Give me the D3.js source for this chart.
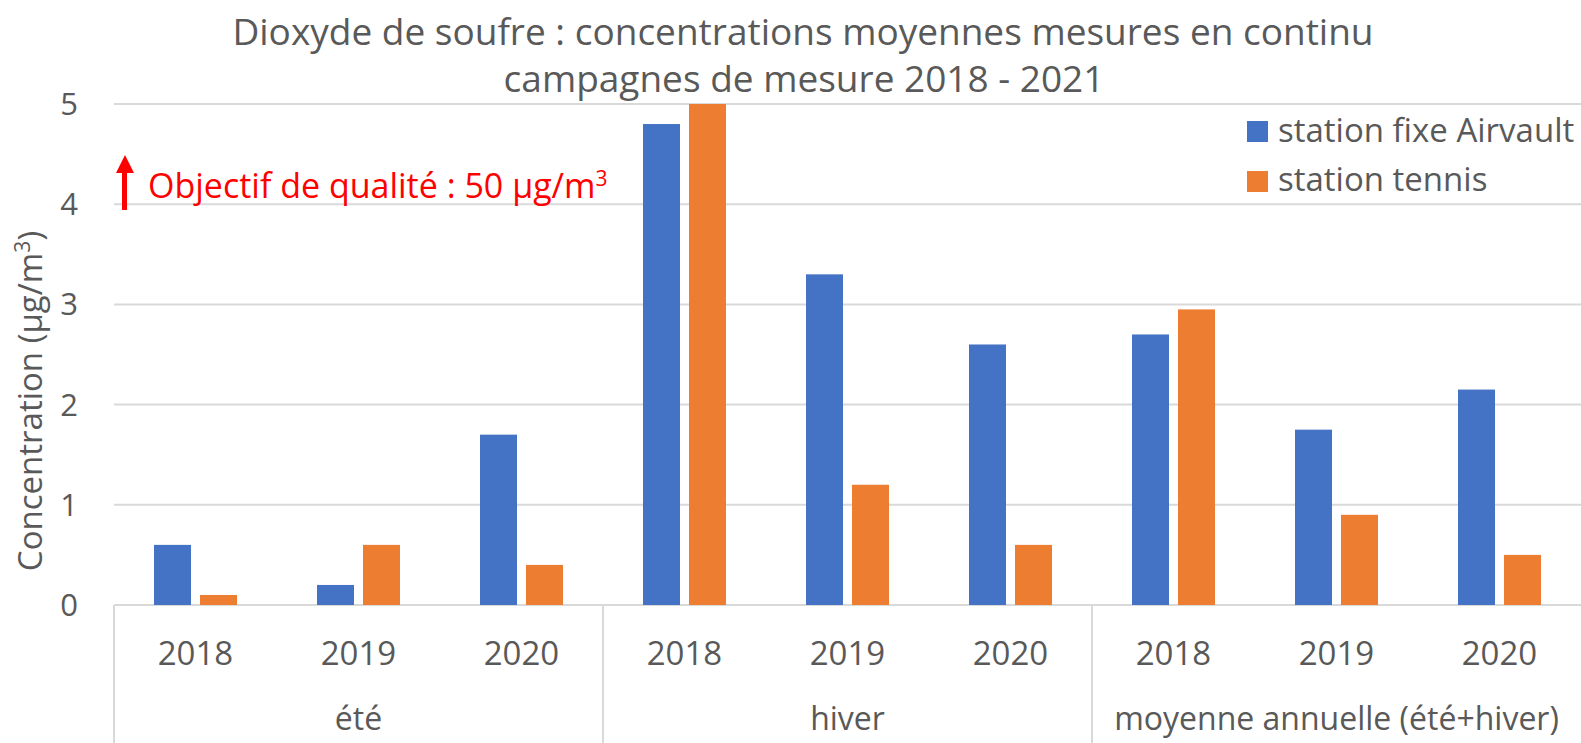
<html>

<head>
  <script src="https://d3js.org/d3.v7.min.js"></script>
  <style>
    body { margin: 0; background: white; }
    text { font-family: "Open Sans", sans-serif; fill: #595959; }
  </style>
</head>

<body>
  <svg id="chart" width="1581" height="743"></svg>

  <script>
    const groups = ["été", "hiver", "moyenne annuelle (été+hiver)"];
    const years = ["2018", "2019", "2020"];
    const seriesNames = ["station fixe Airvault", "station tennis"];
    const seriesColors = ["#4472c4", "#ed7d31"];
    const airvault = [0.6, 0.2, 1.7, 4.8, 3.3, 2.6, 2.7, 1.75, 2.15];
    const tennis = [0.1, 0.6, 0.4, 5.0, 1.2, 0.6, 2.95, 0.9, 0.5];
    const yTicks = [0, 1, 2, 3, 4, 5];

    let svg = d3.select("svg#chart");
    const margin = { top: 104, right: 0, bottom: 138, left: 114 };
    const width = +svg.attr("width");
    const height = +svg.attr("height");

    // one slot per group/year pair
    const slots = [];
    groups.forEach(g => years.forEach(y => slots.push(g + "|" + y)));

    const x = d3.scaleBand().domain(slots).range([margin.left, width - margin.right]);
    const xGroup = d3.scaleBand().domain(groups).range([margin.left, width - margin.right]);
    const y = d3.scaleLinear().domain([0, 5]).range([height - margin.bottom, margin.top]);

    const barW = 37, barGap = 9;

    // grid
    yTicks.forEach(t => {
      svg.append("line")
        .attr("x1", margin.left).attr("x2", width)
        .attr("y1", y(t)).attr("y2", y(t))
        .style("stroke", "#d9d9d9").style("stroke-width", 2);
    });

    // y tick labels
    yTicks.forEach(t => {
      svg.append("text")
        .attr("x", 78).attr("y", y(t) + 11)
        .attr("text-anchor", "end")
        .style("font-size", "31px")
        .text(t);
    });

    // bars
    slots.forEach((s, i) => {
      const cx = x(s) + x.bandwidth() / 2;
      [airvault[i], tennis[i]].forEach((v, k) => {
        const bx = k === 0 ? cx - barGap / 2 - barW : cx + barGap / 2;
        svg.append("rect")
          .attr("x", bx).attr("width", barW)
          .attr("y", y(v)).attr("height", y(0) - y(v))
          .attr("fill", seriesColors[k]);
      });
      svg.append("text")
        .attr("x", cx).attr("y", y(0) + 60)
        .attr("text-anchor", "middle")
        .style("font-size", "33px")
        .text(s.split("|")[1]);
    });

    // category dividers
    groups.forEach(g => {
      svg.append("line")
        .attr("x1", xGroup(g)).attr("x2", xGroup(g))
        .attr("y1", y(0)).attr("y2", height)
        .style("stroke", "#d9d9d9").style("stroke-width", 2);
      svg.append("text")
        .attr("x", xGroup(g) + xGroup.bandwidth() / 2).attr("y", y(0) + 125)
        .attr("text-anchor", "middle")
        .style("font-size", "32px")
        .text(g);
    });

    // title
    svg.append("text")
      .attr("x", 803).attr("y", 45)
      .attr("text-anchor", "middle")
      .style("font-size", "37px")
      .text("Dioxyde de soufre : concentrations moyennes mesures en continu");
    svg.append("text")
      .attr("x", 804).attr("y", 92)
      .attr("text-anchor", "middle")
      .style("font-size", "37px")
      .text("campagnes de mesure 2018 - 2021");

    // y axis title
    const yt = svg.append("text")
      .attr("transform", "translate(42, 401) rotate(-90)")
      .attr("text-anchor", "middle")
      .style("font-size", "33px");
    yt.append("tspan").text("Concentration (µg/m");
    yt.append("tspan").attr("dy", -12).style("font-size", "21px").text("3");
    yt.append("tspan").attr("dy", 12).text(")");

    // legend
    seriesNames.forEach((n, k) => {
      svg.append("rect")
        .attr("x", 1247).attr("y", 121 + k * 50)
        .attr("width", 21).attr("height", 21)
        .attr("fill", seriesColors[k]);
      svg.append("text")
        .attr("x", 1278).attr("y", 142 + k * 49)
        .style("font-size", "33px")
        .text(n);
    });

    // quality objective annotation
    svg.append("line")
      .attr("x1", 124.5).attr("x2", 124.5)
      .attr("y1", 210).attr("y2", 170)
      .style("stroke", "#ff0000").style("stroke-width", 5);
    svg.append("path")
      .attr("d", "M116,173 L125,155 L134,173 Z")
      .attr("fill", "#ff0000");
    const ann = svg.append("text")
      .attr("x", 148).attr("y", 198)
      .style("font-size", "34px")
      .style("fill", "#ff0000");
    ann.append("tspan").style("fill", "#ff0000").text("Objectif de qualité : 50 µg/m");
    ann.append("tspan").style("fill", "#ff0000").attr("dy", -12).style("font-size", "21px").text("3");
  </script>
</body>

</html>
